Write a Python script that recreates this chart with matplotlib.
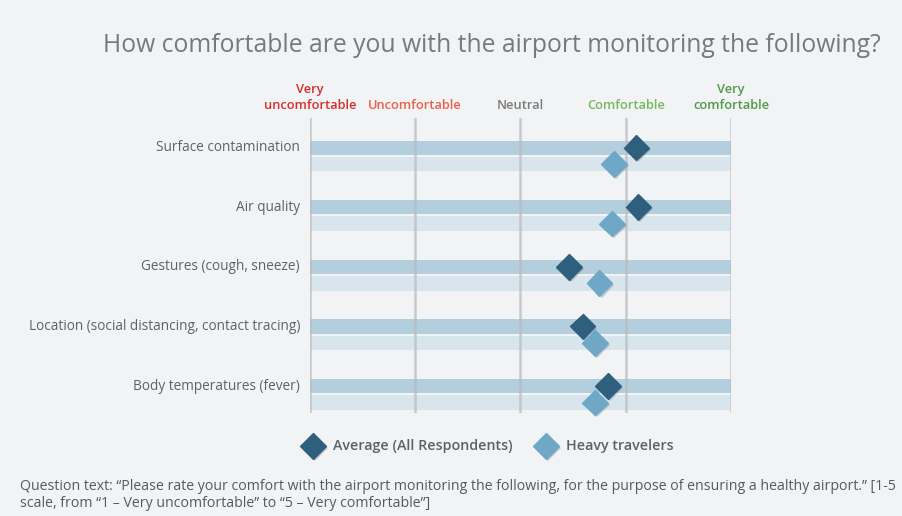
import matplotlib
matplotlib.use("Agg")
import matplotlib.pyplot as plt
import matplotlib.patheffects as pe

plt.rcParams['font.family'] = ['Open Sans', 'DejaVu Sans']

categories = ["Surface contamination", "Air quality", "Gestures (cough, sneeze)",
              "Location (social distancing, contact tracing)", "Body temperatures (fever)"]
average_all = [4.10, 4.12, 3.46, 3.59, 3.83]
heavy_travelers = [3.89, 3.87, 3.75, 3.71, 3.71]
scale_labels = ["Very\nuncomfortable", "Uncomfortable", "Neutral", "Comfortable", "Very\ncomfortable"]
scale_values = [1, 2, 3, 4, 5]
scale_colors = ["#d2302c", "#e9604b", "#7b7b7b", "#74b95d", "#4f9a48"]

BG = "#f2f3f5"
W, H = 903, 516
fig = plt.figure(figsize=(W / 100, H / 100), dpi=100, facecolor=BG)

def fx(px):
    return px / W

def fy(py):
    return 1 - py / H

ax = fig.add_axes([fx(310), fy(413), fx(731) - fx(310), fy(118) - fy(413)])
ax.set_facecolor(BG)
ax.set_xlim(1, 5)
ax.set_ylim(4.45, -0.495)
for s in ax.spines.values():
    s.set_visible(False)
ax.set_xticks([])
ax.set_yticks([])
ax.patch.set_alpha(0)

off = 0.275
n = len(categories)
ys = list(range(n))
ax.barh(ys, [5 - 1] * n, left=1, height=0.235, color="#b3cedd", zorder=2)
ax.barh([y + off for y in ys], [5 - 1] * n, left=1, height=0.245, color="#d9e5ed", zorder=2)

for v in scale_values:
    ax.axvline(v, color="#b9bcc0", lw=1.8, zorder=3, alpha=0.75)

shadow = [pe.SimplePatchShadow(offset=(1.5, -1.5), shadow_rgbFace="#7d8a95", alpha=0.4), pe.Normal()]
ax.plot(average_all, ys, "D", ms=13, color="#2e5f7c", mec="#2e5f7c", zorder=5,
        clip_on=False, path_effects=shadow)
ax.plot(heavy_travelers, [y + off for y in ys], "D", ms=13, color="#6fa7c7", mec="#6fa7c7",
        zorder=5, clip_on=False, path_effects=shadow)

# category labels
for y, c in zip(ys, categories):
    ax.text(0.905, y, c, ha="right", va="center", fontsize=9.8, color="#606164")

# scale header labels
for v, lab, col in zip(scale_values, scale_labels, scale_colors):
    ax.text(v, -0.6, lab, ha="center", va="bottom", fontsize=9.3, color=col,
            linespacing=1.3, fontweight="semibold")

# title
fig.text(fx(492), fy(46), "How comfortable are you with the airport monitoring the following?",
         ha="center", va="center", fontsize=17.8, color="#78797b")

# legend
lx = [313, 546]
ltxt = ["Average (All Respondents)", "Heavy travelers"]
lcol = ["#2e5f7c", "#6fa7c7"]
for x, t, c in zip(lx, ltxt, lcol):
    fig.lines.append(plt.Line2D([fx(x)], [fy(446)], marker="D", ms=13, color=c,
                                transform=fig.transFigure, path_effects=shadow))
    fig.text(fx(x + 20), fy(446), t, ha="left", va="center", fontsize=10.3, color="#5f6062",
             fontweight="semibold")

fig.text(fx(20), fy(495),
         "Question text: \u201cPlease rate your comfort with the airport monitoring the following, for the purpose of ensuring a healthy airport.\u201d [1-5\n"
         "scale, from \u201c1 \u2013 Very uncomfortable\u201d to \u201c5 \u2013 Very comfortable\u201d]",
         ha="left", va="center", fontsize=10.15, color="#58595b", linespacing=1.15)

fig.savefig("out.png", dpi=100, facecolor=BG)
